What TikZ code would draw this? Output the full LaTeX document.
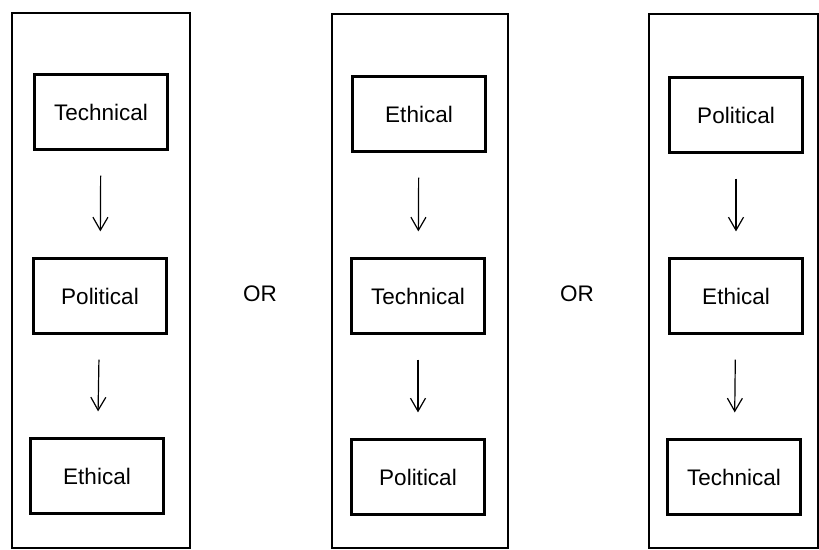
\documentclass[tikz,border=0pt]{standalone}
\usepackage{fontspec}
\setmainfont{Liberation Sans}
\usetikzlibrary{arrows.meta}
\begin{document}
\begin{tikzpicture}[x=1pt,y=-1pt,
  column/.style={draw,line width=2.6pt},
  stage/.style={draw,line width=2.2pt,minimum width=133pt,minimum height=75pt,inner sep=0pt,font=\fontsize{22.5}{26}\selectfont},
  flow/.style={line width=1.2pt,-{Straight Barb[length=13pt,width=15pt,line width=1.2pt]},shorten <=25pt,shorten >=26pt},
  orlabel/.style={font=\fontsize{22.5}{26}\selectfont}]
\useasboundingbox (0,0) rectangle (819,549);
% columns
\draw[column] (12,13) rectangle (190,548);
\draw[column] (332,14) rectangle (508,548);
\draw[column] (649,14) rectangle (818,548);
% column 1
\node[stage] (t1) at (101,112) {Technical};
\node[stage] (p1) at (100,296) {Political};
\node[stage] (e1) at (97,476) {Ethical};
% column 2
\node[stage] (e2) at (419,114) {Ethical};
\node[stage] (t2) at (418,296) {Technical};
\node[stage] (p2) at (418,477) {Political};
% column 3
\node[stage] (p3) at (736,115) {Political};
\node[stage] (e3) at (736,296) {Ethical};
\node[stage] (t3) at (734,477) {Technical};
% arrows
\draw[flow] (t1) -- (p1);
\draw[flow] (p1) -- (e1);
\draw[flow] (e2) -- (t2);
\draw[flow] (t2) -- (p2);
\draw[flow] (p3) -- (e3);
\draw[flow] (e3) -- (t3);
% OR labels
\node[orlabel] (or1) at (260,294) {OR};
\node[orlabel] (or2) at (577,294) {OR};
\end{tikzpicture}
\end{document}
